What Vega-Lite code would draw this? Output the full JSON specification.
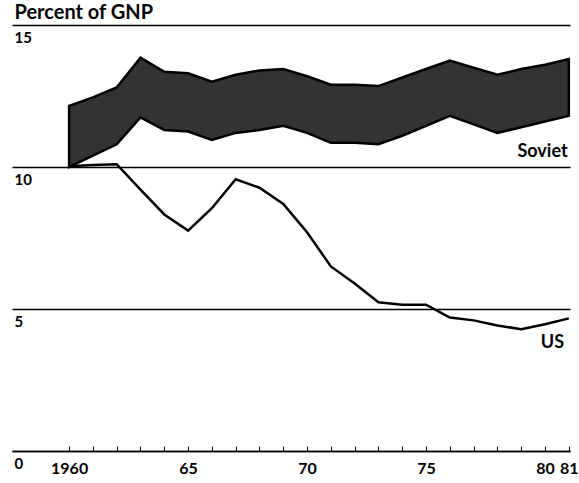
{
  "$schema": "https://vega.github.io/schema/vega-lite/v6.json",
  "width": 558,
  "height": 426,
  "autosize": {"type": "none"},
  "padding": {"left": 12, "top": 25, "right": 9, "bottom": 32},
  "config": {"view": {"stroke": null}, "font": "Lato", "axis": {"labelOverlap": false}, "axisX": {"labelOverlap": false}},
  "datasets": {
    "soviet": [
      {"year": 1960, "low": 10.0, "high": 12.15},
      {"year": 1961, "low": 10.4, "high": 12.45},
      {"year": 1962, "low": 10.8, "high": 12.8},
      {"year": 1963, "low": 11.75, "high": 13.85},
      {"year": 1964, "low": 11.3, "high": 13.35},
      {"year": 1965, "low": 11.25, "high": 13.3},
      {"year": 1966, "low": 10.95, "high": 13.0},
      {"year": 1967, "low": 11.2, "high": 13.25},
      {"year": 1968, "low": 11.3, "high": 13.4},
      {"year": 1969, "low": 11.45, "high": 13.45},
      {"year": 1970, "low": 11.2, "high": 13.2},
      {"year": 1971, "low": 10.85, "high": 12.9},
      {"year": 1972, "low": 10.85, "high": 12.9},
      {"year": 1973, "low": 10.8, "high": 12.85},
      {"year": 1974, "low": 11.1, "high": 13.15},
      {"year": 1975, "low": 11.45, "high": 13.45},
      {"year": 1976, "low": 11.8, "high": 13.75},
      {"year": 1977, "low": 11.5, "high": 13.5},
      {"year": 1978, "low": 11.2, "high": 13.25},
      {"year": 1979, "low": 11.4, "high": 13.45},
      {"year": 1980, "low": 11.6, "high": 13.6},
      {"year": 1981, "low": 11.8, "high": 13.8}
    ],
    "us": [
      {"year": 1960, "value": 10.03},
      {"year": 1961, "value": 10.07},
      {"year": 1962, "value": 10.1},
      {"year": 1963, "value": 9.2},
      {"year": 1964, "value": 8.33},
      {"year": 1965, "value": 7.76},
      {"year": 1966, "value": 8.55},
      {"year": 1967, "value": 9.57},
      {"year": 1968, "value": 9.27},
      {"year": 1969, "value": 8.7},
      {"year": 1970, "value": 7.7},
      {"year": 1971, "value": 6.5},
      {"year": 1972, "value": 5.9},
      {"year": 1973, "value": 5.24},
      {"year": 1974, "value": 5.15},
      {"year": 1975, "value": 5.15},
      {"year": 1976, "value": 4.7},
      {"year": 1977, "value": 4.6},
      {"year": 1978, "value": 4.42},
      {"year": 1979, "value": 4.29},
      {"year": 1980, "value": 4.46},
      {"year": 1981, "value": 4.67}
    ],
    "labels": [
      {"label": "Soviet", "year": 1980.95, "value": 10.53},
      {"label": "US", "year": 1980.8, "value": 3.8}
    ]
  },
  "encoding": {
    "x": {
      "field": "year", "type": "quantitative",
      "scale": {"domain": [1957.6, 1981.05], "nice": false, "zero": false},
      "axis": {
        "title": null,
        "values": [1960, 1961, 1962, 1963, 1964, 1965, 1966, 1967, 1968, 1969, 1970, 1971, 1972, 1973, 1974, 1975, 1976, 1977, 1978, 1979, 1980, 1981],
        "labelExpr": "datum.value == 1960 ? '1960' : ((datum.value % 5 == 0 || datum.value == 1981) ? substring(toString(datum.value), 2, 4) : '')",
        "labelOverlap": false,
        "labelFlush": false,
        "labelBound": false,
        "tickSize": -5,
        "tickColor": "black",
        "tickWidth": 1,
        "domainColor": "black",
        "domainWidth": 1.5,
        "labelPadding": 14,
        "labelFontSize": 16,
        "labelFont": "Lato",
        "labelFontWeight": "bold",
        "labelColor": "black",
        "grid": false
      }
    }
  },
  "layer": [
    {
      "data": {"name": "soviet"},
      "mark": {"type": "area", "fill": "#333333", "stroke": "black", "strokeWidth": 2.5, "strokeJoin": "miter"},
      "encoding": {
        "y": {
          "field": "high", "type": "quantitative",
          "scale": {"domain": [0, 15], "nice": false, "zero": false},
          "axis": {
            "title": "Percent of GNP",
            "titleAngle": 0,
            "titleAlign": "left",
            "titleBaseline": "alphabetic",
            "titleX": 2,
            "titleY": -7,
            "titlePadding": 0,
            "titleFontSize": 20,
            "titleFont": "Lato",
            "titleFontWeight": "bold",
            "titleColor": "black",
            "values": [0, 5, 10, 15],
            "grid": true,
            "gridColor": "black",
            "gridWidth": 1.6,
            "gridOpacity": 1,
            "domain": false,
            "ticks": false,
            "labelAlign": "left",
            "labelBaseline": "top",
            "labelPadding": -2,
            "labelOffset": 5,
            "labelFontSize": 15,
            "labelFont": "Lato",
            "labelFontWeight": "bold",
            "labelColor": "black"
          }
        },
        "y2": {"field": "low"}
      }
    },
    {
      "data": {"name": "us"},
      "mark": {"type": "line", "color": "black", "strokeWidth": 2.5},
      "encoding": {
        "y": {"field": "value", "type": "quantitative"}
      }
    },
    {
      "data": {"name": "labels"},
      "mark": {"type": "text", "align": "right", "baseline": "middle", "fontSize": 18, "font": "Lato", "fontWeight": "bold", "color": "black"},
      "encoding": {
        "y": {"field": "value", "type": "quantitative"},
        "text": {"field": "label"}
      }
    }
  ]
}
